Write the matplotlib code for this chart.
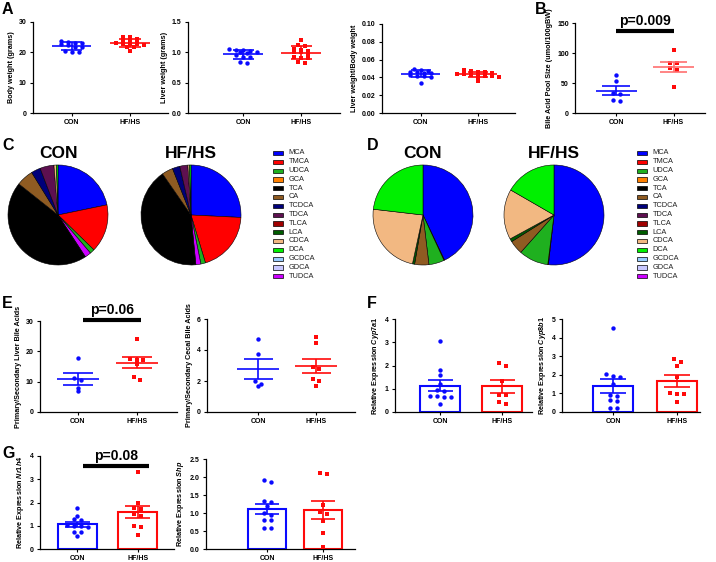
import numpy as np
import matplotlib
matplotlib.use('Agg')
import matplotlib.pyplot as plt
from matplotlib.patches import Rectangle

plt.rcParams['font.family'] = ['Liberation Sans', 'DejaVu Sans']
plt.rcParams['font.weight'] = 'bold'
plt.rcParams['mathtext.fontset'] = 'custom'
plt.rcParams['mathtext.it'] = 'Liberation Sans:italic:bold'
plt.rcParams['mathtext.rm'] = 'Liberation Sans:bold'

W, H = 716, 562
BLUE = '#0a0aff'
RED = '#ff0a0a'

groups = ['CON', 'HF/HS']

# ---------------- Panel A / B data ----------------
body_con = [23.9, 23.5, 23.1, 23.0, 22.6, 22.5, 21.9, 21.8, 20.3, 20.2, 20.1]
body_hf = [25.1, 25.0, 24.5, 24.0, 23.6, 23.2, 23.0, 22.8, 22.7, 22.6, 22.3, 21.8, 21.7, 20.4]
liver_con = [1.05, 1.04, 1.04, 1.03, 1.01, 1.0, 0.99, 0.95, 0.93, 0.92, 0.84, 0.82]
liver_hf = [1.21, 1.12, 1.1, 1.06, 1.04, 1.02, 1.0, 1.0, 0.98, 0.92, 0.91, 0.9, 0.84, 0.83]
ratio_con = [0.050, 0.048, 0.047, 0.0465, 0.046, 0.045, 0.045, 0.043, 0.042, 0.042, 0.041, 0.034]
ratio_hf = [0.048, 0.047, 0.046, 0.046, 0.045, 0.044, 0.044, 0.043, 0.043, 0.042, 0.042, 0.041, 0.040, 0.036]
pool_con = [64, 54, 34, 32, 21, 20]
pool_hf = [105, 84, 83, 75, 72, 44]

# ---------------- Panel C / D data ----------------
bile_acids = ['MCA', 'TMCA', 'UDCA', 'GCA', 'TCA', 'CA', 'TCDCA', 'TDCA', 'TLCA',
              'LCA', 'CDCA', 'DCA', 'GCDCA', 'GDCA', 'TUDCA']
ba_colors = ['#0000ff', '#ff0000', '#1fb01f', '#ff8000', '#000000', '#8f5b22', '#00007a',
             '#5e1050', '#a00000', '#005c00', '#f2b882', '#00f000', '#99ccff', '#c8c8ff', '#cc00ff']
pie_order = ['MCA', 'TMCA', 'UDCA', 'TUDCA', 'TCA', 'CA', 'TCDCA', 'TDCA', 'TLCA', 'LCA',
             'CDCA', 'DCA', 'GCA', 'GCDCA', 'GDCA']
liver_ba_con = [21.7, 15.5, 1.5, 0, 44.8, 5.5, 3.0, 4.5, 0, 0, 0.8, 0.5, 0, 0, 2.0]
liver_ba_hf = [25.7, 19.5, 1.5, 0, 41.8, 3.6, 2.4, 2.6, 0, 0, 0.5, 0.5, 0, 0, 1.6]
cecal_ba_con = [43.0, 0.2, 5.0, 0, 0, 4.6, 0, 0, 0, 0.7, 23.5, 23.2, 0, 0, 0]
cecal_ba_hf = [51.9, 0.2, 9.6, 0, 0, 4.5, 0, 0, 0, 1.0, 16.3, 16.7, 0, 0, 0]

# ---------------- Panel E data ----------------
ps_liver_con = [17.9, 11.3, 10.4, 7.85, 6.8]
ps_liver_hf = [24.2, 17.3, 17.4, 17.1, 15.9, 11.6, 10.7]
ps_cecal_con = [4.71, 3.75, 1.97, 1.8, 1.65]
ps_cecal_hf = [4.82, 4.43, 2.89, 2.78, 2.12, 1.97, 1.69]

# ---------------- Panel F / G data ----------------
cyp7a1_con = [3.05, 1.8, 1.57, 1.22, 0.95, 0.92, 0.7, 0.68, 0.65, 0.63, 0.35]
cyp7a1_hf = [2.12, 2.0, 1.35, 0.75, 0.72, 0.43, 0.33]
cyp8b1_con = [4.5, 2.05, 1.96, 1.9, 1.5, 0.93, 0.84, 0.66, 0.57, 0.23, 0.23]
cyp8b1_hf = [2.84, 2.68, 2.5, 1.88, 1.02, 0.98, 0.98, 0.54]
nr1h4_con = [1.75, 1.4, 1.27, 1.25, 1.02, 1.0, 0.98, 0.95, 0.75, 0.72, 0.57]
nr1h4_hf = [3.31, 1.96, 1.75, 1.73, 1.5, 1.4, 0.98, 0.96, 0.6]
shp_con = [1.93, 1.87, 1.33, 1.3, 1.2, 1.0, 0.95, 0.8, 0.8, 0.58, 0.57]
shp_hf = [2.1, 2.08, 1.22, 1.02, 0.98, 0.77, 0.44, 0.05]

fig = plt.figure(figsize=(W / 100, H / 100), dpi=100)


def add_ax(x0, y0, x1, y1):
    return fig.add_axes([x0 / W, 1 - y1 / H, (x1 - x0) / W, (y1 - y0) / H])


def style(ax, ylim, yticks, fmt):
    for s in ['top', 'right']:
        ax.spines[s].set_visible(False)
    for s in ['left', 'bottom']:
        ax.spines[s].set_linewidth(0.9)
    ax.set_ylim(*ylim)
    ax.set_yticks(yticks)
    ax.set_yticklabels([fmt.format(t) for t in yticks])
    ax.set_xticks([0, 1])
    ax.set_xticklabels(groups)
    ax.tick_params(labelsize=5, width=0.8, length=2.5, pad=2)
    for lab in ax.get_xticklabels() + ax.get_yticklabels():
        lab.set_fontweight('bold')


def swarm(vals, ax_px_h, ylim, ax_px_w, xlim, d_px, bin_px):
    """Row-binned symmetric layout of points (Prism-like scatter)."""
    vals = np.asarray(vals, float)
    ppu_y = ax_px_h / (ylim[1] - ylim[0])
    ppu_x = ax_px_w / (xlim[1] - xlim[0])
    order = np.argsort(-vals)
    offs = np.zeros(len(vals))
    bins = []
    for i in order:
        if bins and (vals[bins[-1][0]] - vals[i]) * ppu_y <= bin_px:
            bins[-1].append(i)
        else:
            bins.append([i])
    for b in bins:
        n = len(b)
        for j, i in enumerate(b):
            offs[i] = (j - (n - 1) / 2) * d_px / ppu_x
    return offs


def scatter_panel(box, con, hf, ylim, yticks, fmt, ylabel, xlim, err='sd',
                  d_px=7.0, bin_px=3.0, mw=0.68, cw=0.36, hf_line=RED):
    x0, y0, x1, y1 = box
    ax = add_ax(*box)
    ax.set_xlim(*xlim)
    style(ax, ylim, yticks, fmt)
    for k, (vals, col, mk, lc) in enumerate([(con, BLUE, 'o', BLUE), (hf, RED, 's', hf_line)]):
        vals = np.asarray(vals, float)
        offs = swarm(vals, y1 - y0, ylim, x1 - x0, xlim, d_px, bin_px)
        ax.scatter(k + offs, vals, s=10, marker=mk, color=col, linewidths=0, zorder=3)
        m = vals.mean()
        e = vals.std(ddof=1)
        if err == 'sem':
            e = e / np.sqrt(len(vals))
        ax.hlines(m, k - mw / 2, k + mw / 2, color=lc, lw=1.2, zorder=4)
        ax.vlines(k, m - e, m + e, color=lc, lw=1.2, zorder=4)
        ax.hlines([m - e, m + e], k - cw / 2, k + cw / 2, color=lc, lw=1.2, zorder=4)
    ax.set_ylabel(ylabel, fontsize=5.2, fontweight='bold', labelpad=3)
    return ax


def bar_panel(box, con, hf, ylim, yticks, fmt, ylabel, xlim, bw=0.64, d_px=7.0, bin_px=3.0):
    x0, y0, x1, y1 = box
    ax = add_ax(*box)
    ax.set_xlim(*xlim)
    style(ax, ylim, yticks, fmt)
    for k, (vals, col, mk) in enumerate([(con, BLUE, 'o'), (hf, RED, 's')]):
        vals = np.asarray(vals, float)
        m = vals.mean()
        e = vals.std(ddof=1) / np.sqrt(len(vals))
        ax.bar(k, m, width=bw, facecolor='white', edgecolor=col, lw=1.5, zorder=1)
        ax.vlines(k, m - e, m + e, color=col, lw=1.2, zorder=2)
        ax.hlines([m - e, m + e], k - bw * 0.32, k + bw * 0.32, color=col, lw=1.2, zorder=2)
        offs = swarm(vals, y1 - y0, ylim, x1 - x0, xlim, d_px, bin_px)
        ax.scatter(k + offs, vals, s=10, marker=mk, color=col, linewidths=0, zorder=3)
    ax.set_ylabel(ylabel, fontsize=5.2, fontweight='bold', labelpad=3)
    return ax


def sig(ax, xa, xb, y, text):
    ax.plot([xa, xb], [y, y], color='black', lw=3, solid_capstyle='butt', clip_on=False)
    ax.annotate(text, xy=((xa + xb) / 2, y), xytext=(0, 2.5), textcoords='offset points',
                ha='center', va='bottom', fontsize=10, fontweight='bold', annotation_clip=False)


# ---- Panel A ----
scatter_panel((33, 22, 168, 113), body_con, body_hf, (0, 30), [0, 10, 20, 30], '{:.0f}',
              'Body weight (grams)', (-0.66, 1.65))
scatter_panel((188, 22, 340, 113), liver_con, liver_hf, (0, 1.5), [0, 0.5, 1.0, 1.5], '{:.1f}',
              'Liver weight (grams)', (-0.95, 1.67))
scatter_panel((382, 24, 515, 113), ratio_con, ratio_hf, (0, 0.10),
              [0, 0.02, 0.04, 0.06, 0.08, 0.10], '{:.2f}', 'Liver weight/Body weight', (-0.68, 1.65))

# ---- Panel B ----
axB = scatter_panel((575, 23, 705, 113), pool_con, pool_hf, (0, 150), [0, 50, 100, 150], '{:.0f}',
                    'Bile Acid Pool Size (umol/100gBW)', (-0.72, 1.55), err='sem',
                    d_px=6.6, mw=0.72, cw=0.48, hf_line='#ff6f6f')
sig(axB, 0.0, 1.0, 136, 'p=0.009')

# ---- Panels C / D (pies) ----
def pie_panel(cx, cy, r, values, title):
    ax = add_ax(cx - r, cy - r, cx + r, cy + r)
    idx = [bile_acids.index(n) for n in pie_order if values[bile_acids.index(n)] > 0]
    ax.pie([values[i] for i in idx], colors=[ba_colors[i] for i in idx], startangle=90,
           counterclock=False, radius=1.0,
           wedgeprops=dict(edgecolor='black', linewidth=0.4))
    ax.set_xlim(-1.02, 1.02)
    ax.set_ylim(-1.02, 1.02)
    ax.set_aspect('equal')
    ax.axis('off')
    fig.text(cx / W, 1 - (cy - r - 11) / H, title, ha='center', va='center',
             fontsize=12.5, fontweight='heavy')


pie_panel(58, 215, 51, liver_ba_con, 'CON')
pie_panel(191, 215, 51, liver_ba_hf, 'HF/HS')
pie_panel(423, 215, 51, cecal_ba_con, 'CON')
pie_panel(554, 215, 51, cecal_ba_hf, 'HF/HS')

ov = fig.add_axes([0, 0, 1, 1])
ov.set_xlim(0, W)
ov.set_ylim(H, 0)
ov.axis('off')


def legend_block(x, y, step):
    for i, (n, c) in enumerate(zip(bile_acids, ba_colors)):
        yy = y + i * step
        ov.add_patch(Rectangle((x, yy - 2), 10, 4.2, facecolor=c, edgecolor='black', lw=0.5))
        ov.text(x + 15.5, yy, n, fontsize=5.3, fontweight='normal', va='center', ha='left',
                color='#222222')


legend_block(273, 153, 8.8)
legend_block(637, 153, 8.8)

# ---- Panel E ----
axE1 = scatter_panel((40, 321, 177, 412), ps_liver_con, ps_liver_hf, (0, 30), [0, 10, 20, 30],
                     '{:.0f}', 'Primary/Secondary Liver Bile Acids', (-0.64, 1.68), err='sem',
                     d_px=6.6, mw=0.72, cw=0.5)
sig(axE1, 0.08, 1.07, 30.2, 'p=0.06')
scatter_panel((207, 319, 355, 412), ps_cecal_con, ps_cecal_hf, (0, 6), [0, 2, 4, 6], '{:.0f}',
              'Primary/Secondary Cecal Bile Acids', (-0.88, 1.67), err='sem',
              d_px=6.6, mw=0.72, cw=0.5)

# ---- Panel F ----
bar_panel((395, 319, 532, 412), cyp7a1_con, cyp7a1_hf, (0, 4), [0, 1, 2, 3, 4], '{:.0f}',
          r'Relative Expression $\mathit{Cyp7a1}$', (-0.73, 1.48))
bar_panel((562, 319, 700, 412), cyp8b1_con, cyp8b1_hf, (0, 5), [0, 1, 2, 3, 4, 5], '{:.0f}',
          r'Relative Expression $\mathit{Cyp8b1}$', (-0.8, 1.36), bw=0.62)

# ---- Panel G ----
axG1 = bar_panel((40, 456, 174, 549), nr1h4_con, nr1h4_hf, (0, 4), [0, 1, 2, 3, 4], '{:.0f}',
                 r'Relative Expression $\mathit{Nr1h4}$', (-0.62, 1.6))
sig(axG1, 0.1, 1.18, 3.57, 'p=0.08')
bar_panel((206, 459, 355, 549), shp_con, shp_hf, (0, 2.5), [0, 0.5, 1.0, 1.5, 2.0, 2.5], '{:.1f}',
          r'Relative Expression $\mathit{Shp}$', (-1.09, 1.57), bw=0.68)

# ---- Panel letters ----
for lt, x, y in [('A', 2, 9), ('B', 535, 9), ('C', 2, 146), ('D', 367, 146),
                 ('E', 2, 303), ('F', 367, 303), ('G', 2, 453)]:
    ov.text(x, y, lt, fontsize=11.5, fontweight='bold', ha='left', va='center')

fig.savefig('out.png', dpi=100)
